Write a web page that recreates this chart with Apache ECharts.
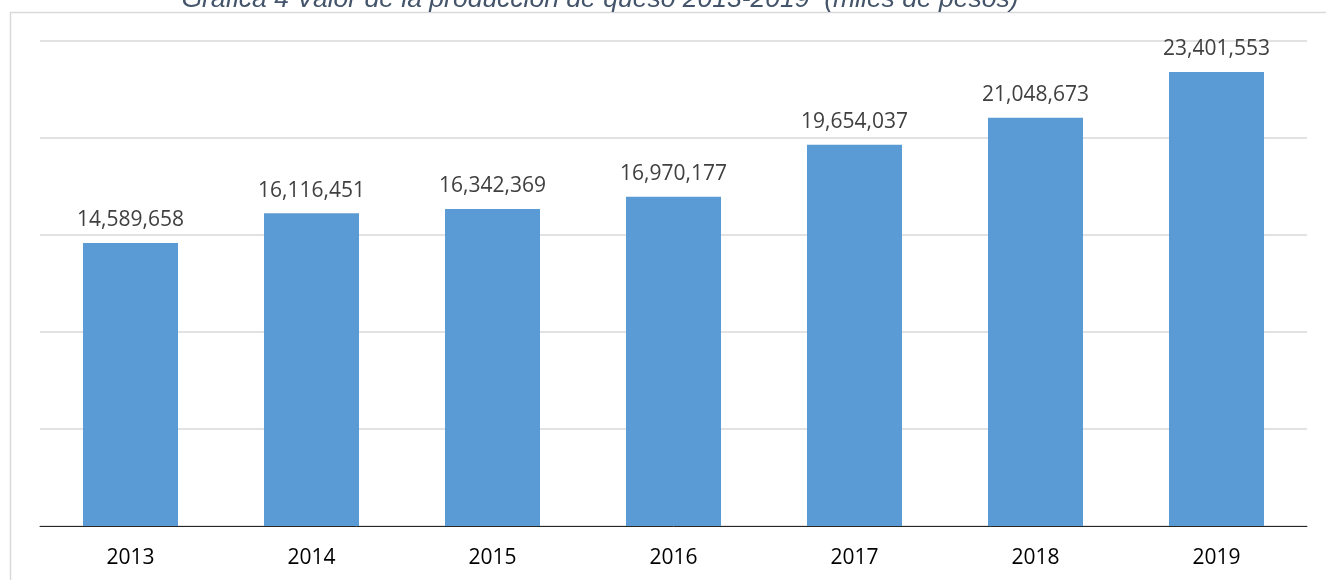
<!DOCTYPE html>
<html>
<head>
<meta charset="utf-8">
<script src="https://cdn.jsdelivr.net/npm/echarts@6/dist/echarts.min.js"></script>
<style>
  html, body { margin: 0; padding: 0; background: #ffffff; }
  #chart { width: 1326px; height: 580px; }
</style>
</head>
<body>
<div id="chart"></div>
<script>
// Valor de la producción de queso, miles de pesos
const years = ['2013', '2014', '2015', '2016', '2017', '2018', '2019'];
const valores = [14589658, 16116451, 16342369, 16970177, 19654037, 21048673, 23401553];
const titulo = 'Gráfica 4 Valor de la producción de queso 2013-2019  (miles de pesos)';

const fmt = v => Number(v).toLocaleString('en-US');

const chart = echarts.init(document.getElementById('chart'), null, { renderer: 'canvas' });

chart.setOption({
  animation: false,
  backgroundColor: '#ffffff',
  graphic: [
    {
      type: 'rect',
      silent: true,
      z: -10,
      shape: { x: 10.5, y: 12.5, width: 1400, height: 700 },
      style: { fill: 'none', stroke: '#d9d9d9', lineWidth: 1.5 }
    },
    {
      type: 'text',
      silent: true,
      x: 600,
      y: 13,
      style: {
        text: titulo,
        align: 'center',
        verticalAlign: 'bottom',
        fill: '#44546a',
        font: 'italic 26.5px "Liberation Sans", Arial, sans-serif'
      }
    }
  ],
  grid: { left: 40, right: 19, top: 41, bottom: 54, containLabel: false },
  xAxis: {
    type: 'category',
    data: years,
    axisLine: { show: true, lineStyle: { color: '#262626', width: 1 } },
    axisTick: { show: false },
    axisLabel: {
      margin: 22,
      color: '#000000',
      fontSize: 21,
      fontFamily: '"Open Sans", sans-serif'
    },
    splitLine: { show: false }
  },
  yAxis: {
    type: 'value',
    min: 0,
    max: 25000000,
    interval: 5000000,
    axisLine: { show: false },
    axisTick: { show: false },
    axisLabel: { show: false },
    splitLine: { show: true, lineStyle: { color: '#d9d9d9', width: 1.5 } }
  },
  series: [{
    type: 'bar',
    data: valores,
    barWidth: '52.5%',
    itemStyle: { color: '#5b9bd5' },
    label: {
      show: true,
      position: 'top',
      distance: 12,
      color: '#404040',
      fontSize: 21,
      fontFamily: '"Open Sans", sans-serif',
      formatter: p => fmt(p.value)
    }
  }]
});
</script>
</body>
</html>
